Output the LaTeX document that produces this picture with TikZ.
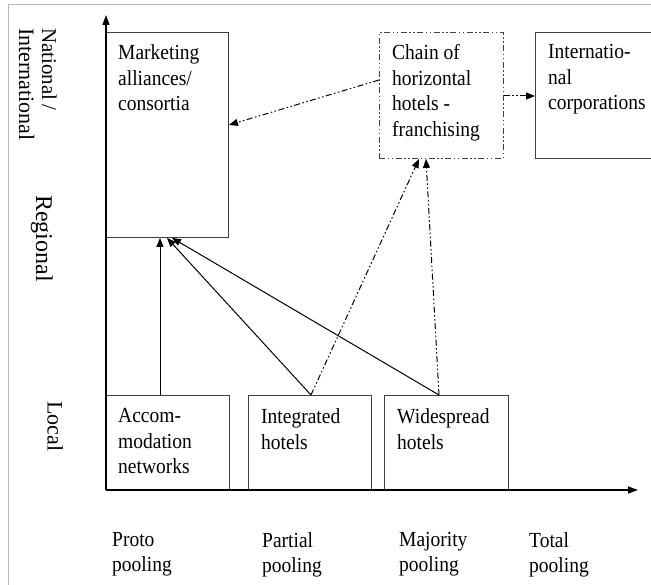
\documentclass[tikz,border=0pt]{standalone}
\usepackage{fontspec}
\setmainfont{Liberation Serif}
\newfontfamily\boxfont[FakeStretch=0.907]{Liberation Serif}
\usetikzlibrary{arrows.meta}
\begin{document}
\begin{tikzpicture}[x=1pt,y=-1pt,
  box/.style={draw=black!75, line width=0.9pt, rectangle, inner sep=0pt, anchor=north west},
  txt/.style={anchor=north west, align=left, inner sep=0pt, font=\boxfont\fontsize{21.5}{25.5}\selectfont},
  btxt/.style={anchor=north west, align=left, inner sep=0pt, font=\boxfont\fontsize{21.5}{25}\selectfont},
  axlbl/.style={rotate=-90, anchor=north west, align=left, inner sep=0pt, font=\fontsize{21}{23}\selectfont},
  dd/.style={dash pattern=on 6pt off 2.5pt on 1.5pt off 2.5pt on 1.5pt off 2.5pt},
  solidarr/.style={draw=black, line width=1pt, -{Triangle[length=9pt,width=7pt]}},
  ddarr/.style={dd, draw=black, line width=1pt, -{Triangle[length=9pt,width=7pt]}},
  axisarr/.style={draw=black, line width=1.4pt, -{Triangle[length=10pt,width=7pt]}}
]
\useasboundingbox (0,0) rectangle (651,585);
% frame
\draw[gray!55, line width=1pt] (8,585) -- (8,5) -- (651,5);
% axes
\coordinate (O) at (106,490);
\coordinate (ytip) at (106,15);
\coordinate (xtip) at (638,490);
% boxes
\node[box, minimum width=122pt, minimum height=205pt] (mkt) at (106,32) {};
\node[box, dd, minimum width=124pt, minimum height=126pt] (chain) at (379,32) {};
\node[box, minimum width=120pt, minimum height=126pt] (intl) at (535,32) {};
\node[box, minimum width=123pt, minimum height=95pt] (acc) at (106,395) {};
\node[box, minimum width=123pt, minimum height=95pt] (int) at (248,395) {};
\node[box, minimum width=124pt, minimum height=95pt] (wid) at (384,395) {};
\draw[axisarr] (O) -- (ytip);
\draw[axisarr] (O) -- (xtip);
% box texts
\node[txt] (mktT) at (118,44.5) {Marketing\\alliances/\\consortia};
\node[txt] (chainT) at (392,44.5) {Chain of\\horizontal\\hotels -\\franchising};
\node[txt] (intlT) at (548,44.5) {Internatio-\\nal\\corporations};
\node[txt] (accT) at (118,408.5) {Accom-\\modation\\networks};
\node[txt] (intT) at (261,408.5) {Integrated\\hotels};
\node[txt] (widT) at (397,408.5) {Widespread\\hotels};
% bottom labels
\node[btxt] (l1) at (112,532.5) {Proto\\pooling};
\node[btxt] (l2) at (262,532.5) {Partial\\pooling};
\node[btxt] (l3) at (399,532.5) {Majority\\pooling};
\node[btxt] (l4) at (529,532.5) {Total\\pooling};
% vertical axis labels
\node[axlbl] (v1) at (57,28) {National\,/\\{\fontsize{22}{23}\selectfont International}};
\node[axlbl, font=\fontsize{24}{26}\selectfont] (v2) at (53,195) {Regional};
\node[axlbl, font=\fontsize{22}{24}\selectfont] (v3) at (63,401) {Local};
% connectors
\draw[solidarr] ([xshift=54pt]acc.north west) -- ([xshift=54pt]mkt.south west);
\draw[solidarr] ([xshift=63pt]int.north west) -- ([xshift=61pt]mkt.south west);
\draw[solidarr] ([xshift=55pt]wid.north west) -- ([xshift=66pt]mkt.south west);
\draw[ddarr] ([xshift=63pt]int.north west) -- ([xshift=40pt]chain.south west);
\draw[ddarr] ([xshift=55pt]wid.north west) -- ([xshift=47pt]chain.south west);
\draw[ddarr] ([yshift=-48pt]chain.north west) -- ([yshift=-93pt]mkt.north east);
\draw[ddarr] ([yshift=-64pt]chain.north east) -- ([yshift=-64pt]intl.north west);
\end{tikzpicture}
\end{document}
